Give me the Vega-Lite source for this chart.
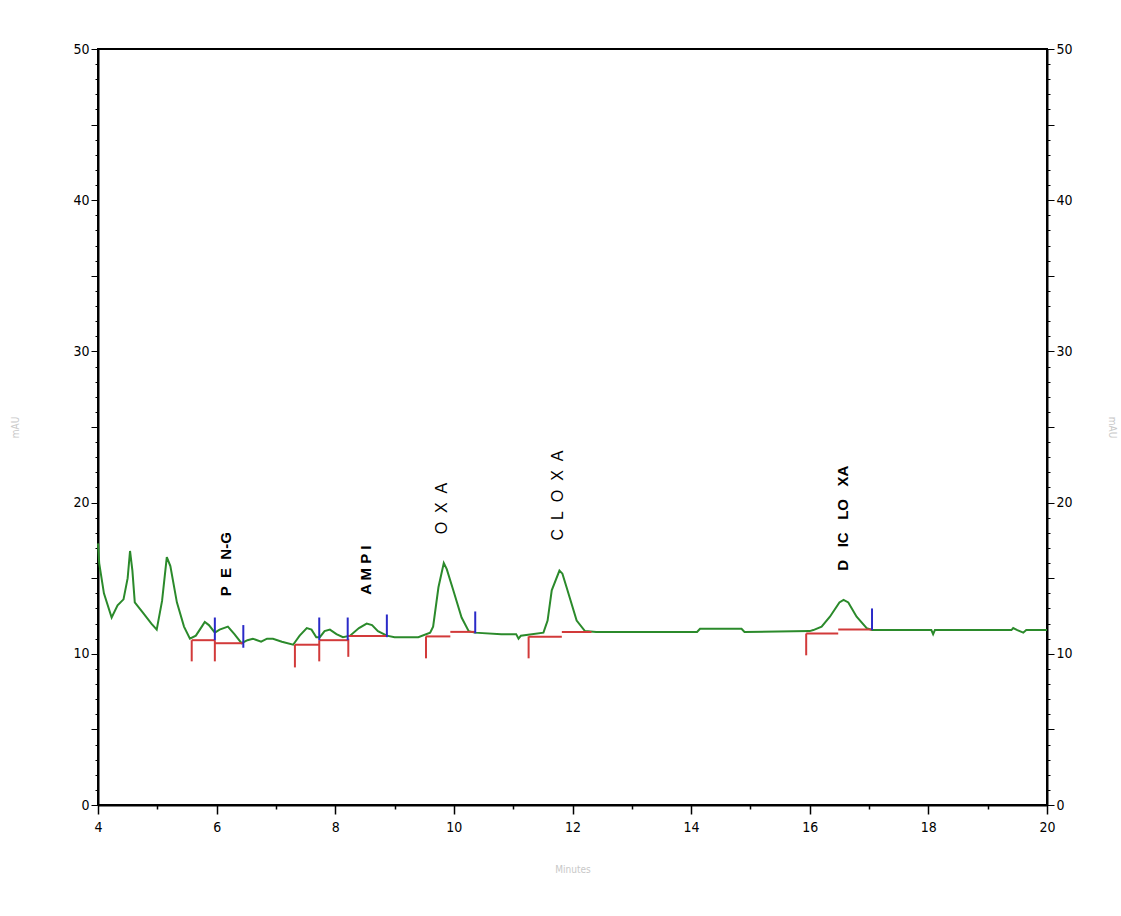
{
  "$schema": "https://vega.github.io/schema/vega-lite/v6.json",
  "width": 949,
  "height": 756,
  "autosize": {"type": "none"},
  "padding": {"left": 98, "top": 49, "right": 74, "bottom": 111},
  "background": "white",
  "config": {
    "view": {"stroke": "black", "strokeWidth": 2},
    "axis": {"labelFont": "DejaVu Sans Condensed, Liberation Sans Narrow, sans-serif", "labelFontSize": 14, "labelColor": "black", "titleFont": "DejaVu Sans Condensed, sans-serif", "titleColor": "#c8c8c8", "titleFontWeight": "normal", "titleFontSize": 10, "domainColor": "black", "domainWidth": 2, "tickColor": "black", "grid": false}
  },
  "datasets": {
    "trace": [
      {"t": 4.00, "v": 17.3}, {"t": 4.02, "v": 16.0}, {"t": 4.10, "v": 14.0}, {"t": 4.23, "v": 12.4}, {"t": 4.33, "v": 13.2},
      {"t": 4.43, "v": 13.6}, {"t": 4.50, "v": 15.0}, {"t": 4.54, "v": 16.8}, {"t": 4.58, "v": 15.5}, {"t": 4.62, "v": 13.4},
      {"t": 4.76, "v": 12.7}, {"t": 4.90, "v": 12.0}, {"t": 4.99, "v": 11.6}, {"t": 5.08, "v": 13.5}, {"t": 5.16, "v": 16.4},
      {"t": 5.22, "v": 15.8}, {"t": 5.33, "v": 13.4}, {"t": 5.45, "v": 11.8}, {"t": 5.55, "v": 11.0}, {"t": 5.65, "v": 11.2},
      {"t": 5.75, "v": 11.8}, {"t": 5.80, "v": 12.1}, {"t": 5.87, "v": 11.9}, {"t": 5.97, "v": 11.4}, {"t": 6.05, "v": 11.6},
      {"t": 6.19, "v": 11.8}, {"t": 6.30, "v": 11.3}, {"t": 6.42, "v": 10.7}, {"t": 6.52, "v": 10.9}, {"t": 6.61, "v": 11.0},
      {"t": 6.75, "v": 10.8}, {"t": 6.85, "v": 11.0}, {"t": 6.95, "v": 11.0}, {"t": 7.10, "v": 10.8}, {"t": 7.29, "v": 10.6},
      {"t": 7.40, "v": 11.2}, {"t": 7.52, "v": 11.7}, {"t": 7.60, "v": 11.6}, {"t": 7.68, "v": 11.1}, {"t": 7.74, "v": 11.1},
      {"t": 7.82, "v": 11.5}, {"t": 7.91, "v": 11.6}, {"t": 8.02, "v": 11.3}, {"t": 8.13, "v": 11.1}, {"t": 8.25, "v": 11.2},
      {"t": 8.40, "v": 11.7}, {"t": 8.53, "v": 12.0}, {"t": 8.62, "v": 11.9}, {"t": 8.72, "v": 11.5}, {"t": 8.87, "v": 11.2},
      {"t": 9.00, "v": 11.1}, {"t": 9.40, "v": 11.1}, {"t": 9.60, "v": 11.4}, {"t": 9.65, "v": 11.8}, {"t": 9.74, "v": 14.4},
      {"t": 9.83, "v": 16.0}, {"t": 9.88, "v": 15.6}, {"t": 9.99, "v": 14.2}, {"t": 10.13, "v": 12.4}, {"t": 10.25, "v": 11.5},
      {"t": 10.35, "v": 11.4}, {"t": 10.80, "v": 11.3}, {"t": 11.05, "v": 11.3}, {"t": 11.09, "v": 11.0}, {"t": 11.13, "v": 11.2},
      {"t": 11.51, "v": 11.4}, {"t": 11.58, "v": 12.2}, {"t": 11.65, "v": 14.2}, {"t": 11.78, "v": 15.5}, {"t": 11.83, "v": 15.3},
      {"t": 11.90, "v": 14.4}, {"t": 12.07, "v": 12.2}, {"t": 12.21, "v": 11.5}, {"t": 12.40, "v": 11.44}, {"t": 14.10, "v": 11.44},
      {"t": 14.15, "v": 11.65}, {"t": 14.85, "v": 11.65}, {"t": 14.90, "v": 11.44}, {"t": 16.00, "v": 11.5}, {"t": 16.06, "v": 11.57},
      {"t": 16.20, "v": 11.8}, {"t": 16.34, "v": 12.45}, {"t": 16.50, "v": 13.4}, {"t": 16.57, "v": 13.56}, {"t": 16.65, "v": 13.4},
      {"t": 16.79, "v": 12.45}, {"t": 16.96, "v": 11.7}, {"t": 17.05, "v": 11.57}, {"t": 18.05, "v": 11.57}, {"t": 18.08, "v": 11.3},
      {"t": 18.11, "v": 11.57}, {"t": 19.40, "v": 11.57}, {"t": 19.43, "v": 11.7}, {"t": 19.50, "v": 11.57}, {"t": 19.60, "v": 11.4},
      {"t": 19.65, "v": 11.57}, {"t": 20.00, "v": 11.57}
    ],
    "baselines": [
      {"t1": 5.58, "t2": 5.97, "v": 10.9}, {"t1": 5.97, "t2": 6.45, "v": 10.7},
      {"t1": 7.32, "t2": 7.73, "v": 10.6}, {"t1": 7.73, "t2": 8.22, "v": 10.9}, {"t1": 8.22, "t2": 8.87, "v": 11.18},
      {"t1": 9.53, "t2": 9.94, "v": 11.15}, {"t1": 9.94, "t2": 10.36, "v": 11.45},
      {"t1": 11.26, "t2": 11.82, "v": 11.13}, {"t1": 11.82, "t2": 12.32, "v": 11.44},
      {"t1": 15.94, "t2": 16.48, "v": 11.34}, {"t1": 16.48, "t2": 17.05, "v": 11.6}
    ],
    "starts": [
      {"t": 5.58, "v1": 10.9, "v2": 9.5}, {"t": 5.97, "v1": 10.9, "v2": 9.5},
      {"t": 7.32, "v1": 10.6, "v2": 9.1}, {"t": 7.73, "v1": 10.9, "v2": 9.5},
      {"t": 8.22, "v1": 11.0, "v2": 9.8}, {"t": 9.53, "v1": 11.15, "v2": 9.7},
      {"t": 11.26, "v1": 11.15, "v2": 9.7}, {"t": 15.94, "v1": 11.34, "v2": 9.9}
    ],
    "ends": [
      {"t": 5.97, "v1": 10.9, "v2": 12.4}, {"t": 6.45, "v1": 10.4, "v2": 11.9},
      {"t": 7.73, "v1": 10.9, "v2": 12.4}, {"t": 8.21, "v1": 10.9, "v2": 12.4},
      {"t": 8.87, "v1": 11.1, "v2": 12.6}, {"t": 10.36, "v1": 11.35, "v2": 12.8},
      {"t": 17.05, "v1": 11.57, "v2": 13.0}
    ],
    "boldLabels": [
      {"name": "P\u00a0\u00a0E\u00a0\u00a0N-G", "t": 6.16, "v": 13.8},
      {"name": "A M P I", "t": 8.52, "v": 13.9},
      {"name": "D\u00a0\u00a0\u00a0IC\u00a0\u00a0\u00a0LO\u00a0\u00a0\u00a0XA", "t": 16.56, "v": 15.5}
    ],
    "plainLabels": [
      {"name": "O\u00a0\u00a0X\u00a0\u00a0A", "t": 9.80, "v": 17.9},
      {"name": "C\u00a0\u00a0L\u00a0\u00a0O\u00a0\u00a0X\u00a0\u00a0A", "t": 11.76, "v": 17.5}
    ]
  },
  "layer": [
    {
      "data": {"name": "trace"},
      "mark": {"type": "line", "color": "#2b8a2b", "strokeWidth": 2},
      "encoding": {
        "x": {"field": "t", "type": "quantitative", "scale": {"domain": [4, 20], "nice": false, "zero": false},
          "axis": {"title": "Minutes", "titlePadding": 30, "values": [4,4.25,4.5,4.75,5,5.25,5.5,5.75,6,6.25,6.5,6.75,7,7.25,7.5,7.75,8,8.25,8.5,8.75,9,9.25,9.5,9.75,10,10.25,10.5,10.75,11,11.25,11.5,11.75,12,12.25,12.5,12.75,13,13.25,13.5,13.75,14,14.25,14.5,14.75,15,15.25,15.5,15.75,16,16.25,16.5,16.75,17,17.25,17.5,17.75,18,18.25,18.5,18.75,19,19.25,19.5,19.75,20],
            "labelExpr": "datum.value % 2 === 0 ? format(datum.value, 'd') : ''", "labelOverlap": false, "labelBound": false, "labelFlush": false, "labelPadding": 6,
            "tickSize": {"condition": {"test": "datum.value % 2 === 0", "value": 9}, "value": 4},
            "tickWidth": {"condition": {"test": "datum.value % 1 === 0", "value": 1.5}, "value": 1}}},
        "y": {"field": "v", "type": "quantitative", "scale": {"domain": [0, 50], "nice": false},
          "axis": {"title": "mAU", "titlePadding": 52, "orient": "left", "values": [0,1,2,3,4,5,6,7,8,9,10,11,12,13,14,15,16,17,18,19,20,21,22,23,24,25,26,27,28,29,30,31,32,33,34,35,36,37,38,39,40,41,42,43,44,45,46,47,48,49,50],
            "labelExpr": "datum.value % 10 === 0 ? format(datum.value, 'd') : ''", "labelOverlap": false, "labelBound": false, "labelFlush": false, "labelPadding": 2,
            "tickSize": {"condition": {"test": "datum.value % 5 === 0", "value": 7}, "value": 3}}}
      }
    },
    {
      "data": {"name": "trace"},
      "mark": {"type": "line", "opacity": 0},
      "encoding": {
        "x": {"field": "t", "type": "quantitative"},
        "y": {"field": "v", "type": "quantitative",
          "axis": {"title": "mAU", "titlePadding": 34, "orient": "right", "values": [0,1,2,3,4,5,6,7,8,9,10,11,12,13,14,15,16,17,18,19,20,21,22,23,24,25,26,27,28,29,30,31,32,33,34,35,36,37,38,39,40,41,42,43,44,45,46,47,48,49,50],
            "labelExpr": "datum.value % 10 === 0 ? format(datum.value, 'd') : ''", "labelOverlap": false, "labelBound": false, "labelFlush": false, "labelPadding": 2,
            "tickSize": {"condition": {"test": "datum.value % 5 === 0", "value": 7}, "value": 3}}}
      }
    },
    {
      "data": {"name": "baselines"},
      "mark": {"type": "rule", "color": "#d23a3a", "strokeWidth": 2},
      "encoding": {
        "x": {"field": "t1", "type": "quantitative"},
        "x2": {"field": "t2"},
        "y": {"field": "v", "type": "quantitative", "axis": null}
      }
    },
    {
      "data": {"name": "starts"},
      "mark": {"type": "rule", "color": "#d23a3a", "strokeWidth": 2},
      "encoding": {
        "x": {"field": "t", "type": "quantitative"},
        "y": {"field": "v1", "type": "quantitative", "axis": null},
        "y2": {"field": "v2"}
      }
    },
    {
      "data": {"name": "ends"},
      "mark": {"type": "rule", "color": "#2a2ac8", "strokeWidth": 2},
      "encoding": {
        "x": {"field": "t", "type": "quantitative"},
        "y": {"field": "v1", "type": "quantitative", "axis": null},
        "y2": {"field": "v2"}
      }
    },
    {
      "data": {"name": "boldLabels"},
      "mark": {"type": "text", "angle": 270, "align": "left", "baseline": "middle", "font": "Liberation Sans", "fontSize": 15, "fontWeight": "bold", "color": "black"},
      "encoding": {
        "x": {"field": "t", "type": "quantitative"},
        "y": {"field": "v", "type": "quantitative", "axis": null},
        "text": {"field": "name"}
      }
    },
    {
      "data": {"name": "plainLabels"},
      "mark": {"type": "text", "angle": 270, "align": "left", "baseline": "middle", "font": "Liberation Sans", "fontSize": 16, "color": "black"},
      "encoding": {
        "x": {"field": "t", "type": "quantitative"},
        "y": {"field": "v", "type": "quantitative", "axis": null},
        "text": {"field": "name"}
      }
    }
  ]
}
